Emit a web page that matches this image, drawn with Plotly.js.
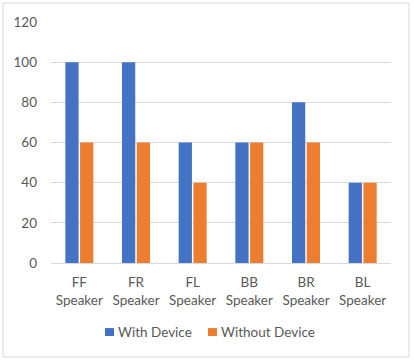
<!DOCTYPE html>
<html><head><meta charset="utf-8">
<script src="https://cdn.plot.ly/plotly-3.0.1.min.js"></script>
<style>body{margin:0;background:#fff}#c{width:414px;height:362px}</style>
</head><body><div id="c"></div>
<script>
const categories = ["FF<br>Speaker","FR<br>Speaker","FL<br>Speaker","BB<br>Speaker","BR<br>Speaker","BL<br>Speaker"];
const seriesNames = ["With Device", "Without Device"];
const withDevice = [100, 100, 60, 60, 80, 40];
const withoutDevice = [60, 60, 40, 60, 60, 40];
const yTicks = [0, 20, 40, 60, 80, 100, 120];
const colors = ["#4472C4", "#ED7D31"];

const font = {family: "Lato, Noto Sans, sans-serif", size: 13.5, color: "#595959"};
const data = [
  {type: "bar", name: seriesNames[0], x: categories, y: withDevice, marker: {color: colors[0]}, showlegend: false},
  {type: "bar", name: seriesNames[1], x: categories, y: withoutDevice, marker: {color: colors[1]}, showlegend: false}
];
// legend drawn as small squares + text (Excel style)
const legX = [[0.1588, 0.1853, 0.196], [0.4618, 0.4883, 0.499]];
const shapes = [{type: "rect", xref: "paper", yref: "paper", x0: -0.141, x1: 1.053, y0: -0.39, y1: 1.079, line: {color: "#d9d9d9", width: 1}}];
const annotations = [];
seriesNames.forEach((n, i) => {
  shapes.push({type: "rect", xref: "paper", yref: "paper", x0: legX[i][0], x1: legX[i][1], y0: -0.303, y1: -0.270, fillcolor: colors[i], line: {width: 0}});
  annotations.push({xref: "paper", yref: "paper", x: legX[i][2], y: -0.286, xanchor: "left", yanchor: "middle", text: n, showarrow: false, font: font, borderpad: 0, borderwidth: 0});
});
const layout = {
  width: 414, height: 362,
  margin: {l: 51, r: 23, t: 22, b: 99},
  paper_bgcolor: "#fff", plot_bgcolor: "#fff",
  font: font,
  barmode: "group", bargap: 0.48, bargroupgap: 0.1,
  showlegend: false,
  xaxis: {tickvals: categories, ticktext: categories, showline: true, linecolor: "#d9d9d9", linewidth: 1, ticks: "outside", ticklen: 7, tickcolor: "rgba(0,0,0,0)", tickfont: font, fixedrange: true},
  yaxis: {range: [0, 120], tickvals: yTicks, ticktext: yTicks.map(String), showgrid: true, gridcolor: "#d9d9d9", gridwidth: 1, zeroline: false, showline: false, ticks: "", tickfont: font, ticklabelstandoff: 13},
  shapes: shapes,
  annotations: annotations
};
Plotly.newPlot("c", data, layout, {displayModeBar: false, staticPlot: true});
</script></body></html>
